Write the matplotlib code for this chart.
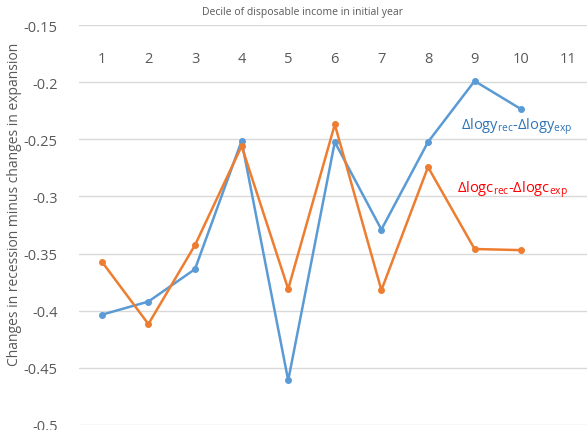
import numpy as np
import matplotlib.pyplot as plt

plt.rcParams['font.family'] = ['Open Sans', 'DejaVu Sans']
plt.rcParams['mathtext.fontset'] = 'custom'
plt.rcParams['mathtext.rm'] = 'Open Sans'
plt.rcParams['mathtext.it'] = 'Open Sans'

deciles = [1, 2, 3, 4, 5, 6, 7, 8, 9, 10]
income_diff = [-0.4035, -0.392, -0.3636, -0.2515, -0.461, -0.2524, -0.329, -0.2524, -0.199, -0.2237]
consump_diff = [-0.357, -0.4117, -0.3426, -0.256, -0.381, -0.237, -0.382, -0.2743, -0.346, -0.347]
xticks = list(range(1, 12))
yticks = [-0.5, -0.45, -0.4, -0.35, -0.3, -0.25, -0.2, -0.15]

blue = '#5B9BD5'
orange = '#ED7D31'
grey = '#595959'

fig = plt.figure(figsize=(5.87, 4.31), dpi=100)
ax = fig.add_axes([78.5/587, 5/431, 1 - 78.5/587, 400/431])

ax.plot(deciles, income_diff, '-o', color=blue, lw=1.8, ms=4)
ax.plot(deciles, consump_diff, '-o', color=orange, lw=1.8, ms=4)

ax.set_xlim(0.5, 0.5 + (587 - 78.5)/46.6)
ax.set_ylim(-0.5, -0.15)
ax.set_yticks(yticks)
ax.set_yticklabels([f'{v:g}' for v in yticks])
ax.set_xticks(xticks)
ax.xaxis.tick_top()
ax.tick_params(axis='x', length=0, pad=-19, labelsize=10.5, colors=grey)
ax.tick_params(axis='y', length=0, pad=15, labelsize=10.5, colors=grey)
for lbl in ax.get_xticklabels():
    lbl.set_verticalalignment('top')
ax.grid(axis='y', color='#D9D9D9', lw=1)
ax.set_axisbelow(True)
for s in ax.spines.values():
    s.set_visible(False)

ax.text(8.71, -0.2384, 'Δlogy$_{\\mathrm{rec}}$-Δlogy$_{\\mathrm{exp}}$',
        color='#2E75B6', fontsize=10.5, va='center', ha='left')
ax.text(8.63, -0.2936, 'Δlogc$_{\\mathrm{rec}}$-Δlogc$_{\\mathrm{exp}}$',
        color='#FF0000', fontsize=10.5, va='center', ha='left')

fig.text(302/587, 1 - 12/431, 'Decile of disposable income in initial year',
         ha='center', va='center', fontsize=7.5, color=grey)
fig.text(15/587, 1 - 204/431, 'Changes in recession minus changes in expansion',
         ha='center', va='center', rotation=90, fontsize=10, color=grey)

fig.savefig('out.png', dpi=100)
